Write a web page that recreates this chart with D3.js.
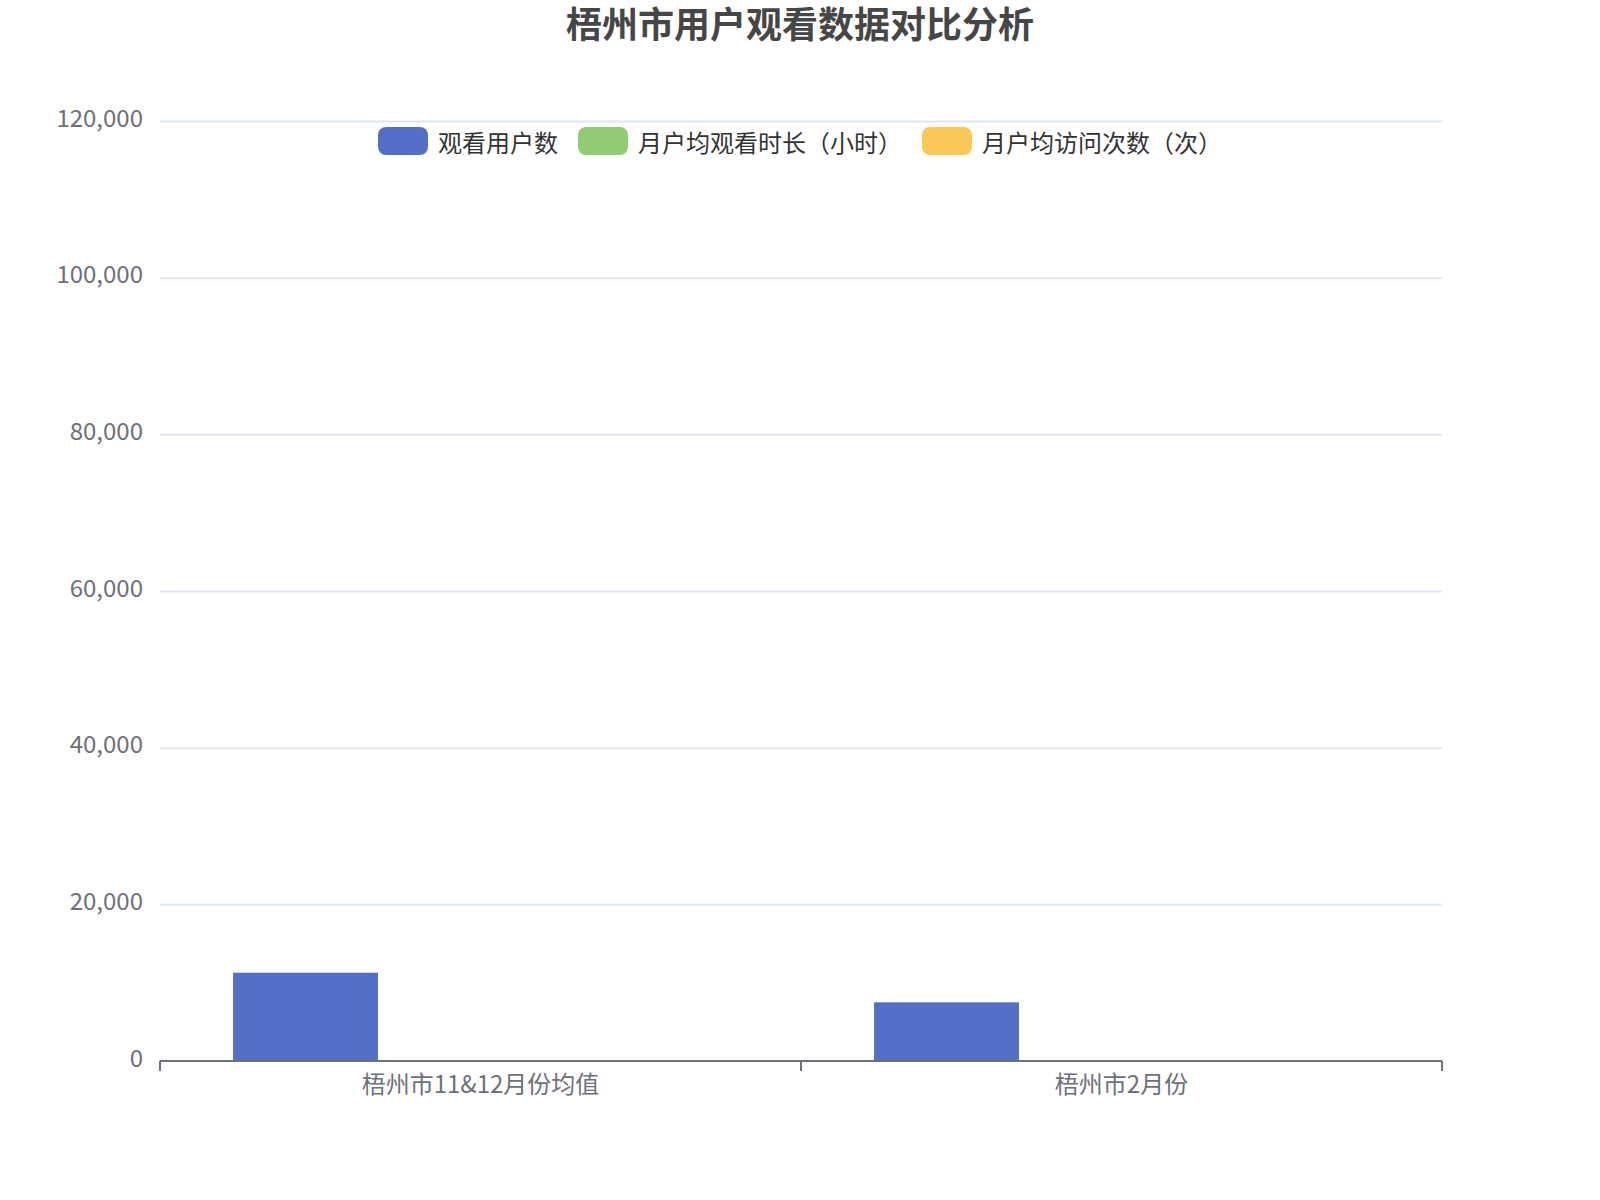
<!DOCTYPE html>
<html>
<head>
<meta charset="utf-8">
<script src="https://cdn.jsdelivr.net/npm/d3@7"></script>
<style>
  body { margin: 0; background: #fff; }
  svg { display: block; font-family: "Noto Sans CJK SC", "Noto Sans", sans-serif; }
</style>
</head>
<body>
<svg width="1600" height="1200"></svg>
<script>
// data
const categories = ["梧州市11&12月份均值", "梧州市2月份"];
const seriesNames = ["观看用户数", "月户均观看时长（小时）", "月户均访问次数（次）"];
const viewers = [11270, 7490];
const hoursPerUser = [3.2, 2.6];
const visitsPerUser = [6.5, 5.1];
const yTicks = [0, 20000, 40000, 60000, 80000, 100000, 120000];

const colors = ["#5470c6", "#91cc75", "#fac858"];
const chartTitle = "梧州市用户观看数据对比分析";

const values = [viewers, hoursPerUser, visitsPerUser];
const rows = categories.map(function (c, i) {
  return { cat: c, vals: values.map(function (s) { return s[i]; }) };
});

const svg = d3.select("svg"),
  gLeft = 160,
  gRight = 1442,
  gTop = 121,
  gBottom = 1061;

const x0 = d3.scaleBand().domain(categories).range([gLeft, gRight]).padding(0);
const x1 = d3
  .scaleBand()
  .domain(d3.range(seriesNames.length))
  .range([0, x0.bandwidth()])
  .paddingInner(0.172)
  .paddingOuter(0.4175);
const y = d3.scaleLinear().domain([0, 120000]).range([gBottom, gTop]);

// title
svg
  .append("text")
  .attr("x", 800)
  .attr("y", 38)
  .attr("text-anchor", "middle")
  .attr("font-size", "36px")
  .attr("font-weight", "bold")
  .attr("fill", "#464646")
  .text(chartTitle);

// grid lines + y labels
const yAxis = svg
  .append("g")
  .attr("transform", "translate(" + gLeft + ",0)")
  .call(
    d3
      .axisLeft(y)
      .tickValues(yTicks)
      .tickSize(-(gRight - gLeft))
      .tickPadding(17)
      .tickFormat(d3.format(","))
  );
yAxis.select(".domain").remove();
yAxis
  .selectAll(".tick line")
  .attr("stroke", "#E0E6F1")
  .attr("stroke-width", 2)
  .attr("stroke-opacity", function (d) { return d === 0 ? 0 : 1; });
yAxis
  .selectAll(".tick text")
  .attr("dy", "0.22em")
  .attr("font-size", "24px")
  .attr("fill", "#6E7079")
  .attr("font-family", "\"Noto Sans CJK SC\", \"Noto Sans\", sans-serif");

// bars
const cat = svg
  .append("g")
  .selectAll("g")
  .data(rows)
  .enter()
  .append("g")
  .attr("transform", function (d) { return "translate(" + x0(d.cat) + ",0)"; });

cat
  .selectAll("rect")
  .data(function (d) { return d.vals; })
  .enter()
  .append("rect")
  .attr("x", function (d, i) { return x1(i); })
  .attr("y", function (d) { return y(d); })
  .attr("width", x1.bandwidth())
  .attr("height", function (d) { return y(0) - y(d); })
  .attr("fill", function (d, i) { return colors[i]; });

// x axis
const xAxis = svg
  .append("g")
  .attr("transform", "translate(0," + gBottom + ")")
  .call(d3.axisBottom(x0).tickSize(0).tickPadding(15));
xAxis.select(".domain").attr("stroke", "#6E7079").attr("stroke-width", 2)
  .attr("d", "M" + gLeft + ",0H" + gRight);
xAxis
  .selectAll(".tick text")
  .attr("font-size", "24px")
  .attr("fill", "#6E7079")
  .attr("font-family", "\"Noto Sans CJK SC\", \"Noto Sans\", sans-serif");

// boundary ticks between categories
const tickPos = [gLeft].concat(categories.map(function (c) { return x0(c) + x0.bandwidth(); }));
xAxis
  .append("g")
  .selectAll("line")
  .data(tickPos)
  .enter()
  .append("line")
  .attr("x1", function (d) { return d; })
  .attr("x2", function (d) { return d; })
  .attr("y1", 0)
  .attr("y2", 10)
  .attr("stroke", "#6E7079")
  .attr("stroke-width", 2);

// legend
const legend = svg.append("g").attr("transform", "translate(0,141)");
let lx = 0;
const items = seriesNames.map(function (name, i) {
  const w = 50 + 10 + name.length * 24;
  const it = { name: name, i: i, x: lx };
  lx += w + 20;
  return it;
});
const legendWidth = lx - 20;
const lg = legend
  .selectAll("g")
  .data(items)
  .enter()
  .append("g")
  .attr("transform", function (d) { return "translate(" + (800 - legendWidth / 2 + d.x) + ",0)"; });
lg.append("rect")
  .attr("y", -14)
  .attr("width", 50)
  .attr("height", 28)
  .attr("rx", 8)
  .attr("fill", function (d) { return colors[d.i]; });
lg.append("text")
  .attr("x", 60)
  .attr("dominant-baseline", "central")
  .attr("font-size", "24px")
  .attr("fill", "#333")
  .text(function (d) { return d.name; });
</script>
</body>
</html>
